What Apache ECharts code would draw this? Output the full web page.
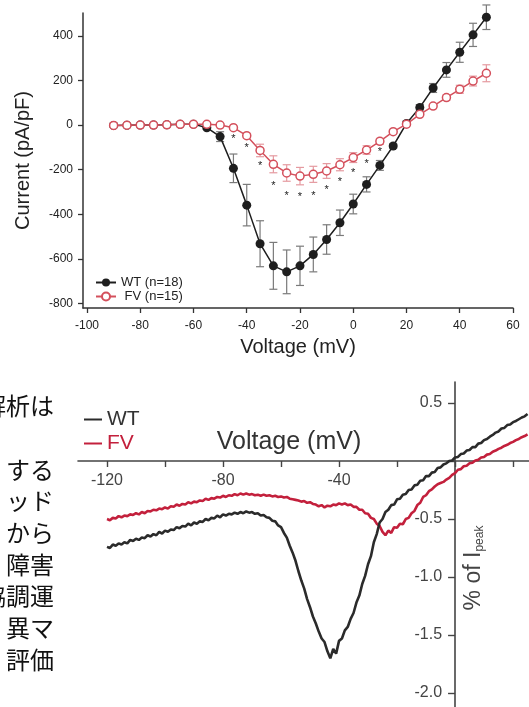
<!DOCTYPE html>
<html>
<head>
<meta charset="utf-8">
<script src="https://cdn.jsdelivr.net/npm/echarts@6/dist/echarts.min.js"></script>
<style>
  html, body { margin: 0; padding: 0; background: #fff; }
  #chart { width: 529px; height: 707px; }
</style>
</head>
<body>
<div id="chart"></div>
<script>
// ---------- Top chart: I-V relationship ----------
const ivVoltages = [-90,-85,-80,-75,-70,-65,-60,-55,-50,-45,-40,-35,-30,-25,-20,-15,-10,-5,0,5,10,15,20,25,30,35,40,45,50];
const wtMean = [-2,-1,0,0,1,3,4,-12,-52,-194,-359,-532,-631,-658,-631,-580,-513,-438,-354,-266,-181,-94,7,79,166,247,326,404,483];
const wtErr  = [0,0,0,0,0,0,0,6,22,64,93,103,105,98,88,78,66,57,44,34,22,10,6,12,20,33,45,52,55];
const fvMean = [-2,-1,0,0,1,3,3,3,0,-12,-48,-114,-176,-215,-229,-221,-206,-178,-146,-112,-73,-30,4,48,85,123,160,197,232];
const fvErr  = [0,0,0,0,0,0,0,0,3,5,10,28,38,37,39,36,33,27,22,19,13,7,4,5,8,12,18,22,38];
const starVoltages = [-45,-40,-35,-30,-25,-20,-15,-10,-5,0,5,10];
const starLevels   = [-49,-90,-172,-259,-303,-311,-303,-277,-242,-202,-161,-108];
const ivXTicks = [-100,-80,-60,-40,-20,0,20,40,60];
const ivYTicks = [-800,-600,-400,-200,0,200,400];
const wtName = 'WT (n=18)';
const fvName = ' FV (n=15)';

// ---------- Bottom chart: ramp current traces ----------
const traceStart = -120; // mV, 1 mV per sample
const wtTrace = [
-0.74,-0.75,-0.72,-0.73,-0.71,-0.72,-0.70,-0.71,-0.68,-0.69,
-0.67,-0.68,-0.66,-0.665,-0.64,-0.65,-0.63,-0.64,-0.61,-0.625,
-0.60,-0.61,-0.59,-0.595,-0.57,-0.58,-0.56,-0.565,-0.54,-0.555,
-0.53,-0.54,-0.52,-0.525,-0.50,-0.51,-0.49,-0.495,-0.47,-0.485,
-0.46,-0.47,-0.455,-0.46,-0.445,-0.455,-0.44,-0.45,-0.435,-0.445,
-0.44,-0.455,-0.45,-0.47,-0.465,-0.485,-0.49,-0.515,-0.52,-0.555,
-0.57,-0.62,-0.66,-0.73,-0.79,-0.86,-0.95,-1.03,-1.10,-1.19,
-1.26,-1.34,-1.40,-1.47,-1.53,-1.56,-1.64,-1.70,-1.62,-1.66,
-1.55,-1.53,-1.46,-1.43,-1.36,-1.31,-1.22,-1.16,-1.06,-0.99,
-0.89,-0.82,-0.70,-0.63,-0.53,-0.50,-0.44,-0.42,-0.38,-0.375,
-0.33,-0.325,-0.29,-0.285,-0.25,-0.245,-0.21,-0.205,-0.17,-0.165,
-0.13,-0.13,-0.10,-0.095,-0.06,-0.055,-0.03,-0.02,0.0,0.005,
0.03,0.035,0.06,0.065,0.09,0.095,0.12,0.12,0.15,0.155,
0.18,0.19,0.21,0.225,0.245,0.255,0.28,0.285,0.31,0.315,
0.335,0.345,0.36,0.375,0.385,0.405
];
const fvTrace = [
-0.50,-0.51,-0.49,-0.495,-0.475,-0.485,-0.47,-0.475,-0.46,-0.465,
-0.45,-0.46,-0.44,-0.45,-0.43,-0.435,-0.42,-0.425,-0.41,-0.415,
-0.40,-0.41,-0.39,-0.395,-0.375,-0.385,-0.37,-0.375,-0.355,-0.365,
-0.35,-0.355,-0.34,-0.345,-0.325,-0.335,-0.32,-0.325,-0.31,-0.315,
-0.30,-0.31,-0.295,-0.30,-0.285,-0.295,-0.28,-0.29,-0.28,-0.29,
-0.285,-0.295,-0.29,-0.30,-0.29,-0.30,-0.295,-0.305,-0.30,-0.31,
-0.305,-0.315,-0.31,-0.325,-0.33,-0.335,-0.34,-0.35,-0.345,-0.36,
-0.355,-0.37,-0.375,-0.39,-0.38,-0.40,-0.385,-0.39,-0.375,-0.38,
-0.365,-0.375,-0.365,-0.38,-0.375,-0.395,-0.395,-0.42,-0.42,-0.45,
-0.455,-0.49,-0.50,-0.54,-0.56,-0.61,-0.64,-0.60,-0.62,-0.57,
-0.575,-0.54,-0.545,-0.50,-0.49,-0.45,-0.43,-0.38,-0.36,-0.31,
-0.295,-0.26,-0.245,-0.22,-0.20,-0.19,-0.18,-0.16,-0.145,-0.12,
-0.105,-0.075,-0.07,-0.045,-0.04,-0.02,-0.015,0.005,0.01,0.03,
0.035,0.055,0.06,0.08,0.09,0.105,0.115,0.13,0.14,0.155,
0.165,0.18,0.19,0.205,0.215,0.23
];
const rampXTicks = [-120,-100,-80,-60,-40,-20,0,20];
const rampXLabels = [-120,-80,-40];
const rampYTicks = [0.5,0,-0.5,-1.0,-1.5,-2.0];
const rampYLabels = [0.5,-0.5,-1.0,-1.5,-2.0];

// Side text fragments (Japanese body text cut by the crop)
const sideText = ['解析は','','する','ッド','から','障害','協調運','異マ','評価'];

// ---------- colours ----------
const cWT = '#1e1e1e', cWTerr = '#7a7a7a';
const cFV = '#d4505c', cFVerr = '#e59aa0';
const cWT2 = '#2b2b2b', cFV2 = '#c3203c';
const FONT = '"Liberation Sans", Arial, Helvetica, sans-serif';

// bottom grid geometry (axes cross at 0,0)
const g2 = { left: 78, right: 0, top: 382, bottom: 0, xMin: -130, xMax: 25.5, yMin: -2.12, yMax: 0.681 };
const g2W = 529 - g2.left - g2.right, g2H = 707 - g2.top - g2.bottom;
const xZeroOffset = -(g2W * (0 - g2.xMin) / (g2.xMax - g2.xMin));   // move y axis right to x=0
const yZeroOffset = -(g2H * (0 - g2.yMin) / (g2.yMax - g2.yMin));   // move x axis up to y=0

function pairs(xs, ys) { return xs.map((x, i) => [x, ys[i]]); }
function errRows(xs, m, e) {
  const rows = [];
  xs.forEach((x, i) => { if (e[i] > 0) rows.push([x, m[i] - e[i], m[i] + e[i]]); });
  return rows;
}
function errRender(color) {
  return function (params, api) {
    const x = api.value(0);
    const pLo = api.coord([x, api.value(1)]);
    const pHi = api.coord([x, api.value(2)]);
    const w = 4;
    const st = { stroke: color, lineWidth: 1.2 };
    return { type: 'group', children: [
      { type: 'line', shape: { x1: pHi[0], y1: pHi[1], x2: pLo[0], y2: pLo[1] }, style: st },
      { type: 'line', shape: { x1: pHi[0] - w, y1: pHi[1], x2: pHi[0] + w, y2: pHi[1] }, style: st },
      { type: 'line', shape: { x1: pLo[0] - w, y1: pLo[1], x2: pLo[0] + w, y2: pLo[1] }, style: st }
    ]};
  };
}
const traceV = wtTrace.map((_, i) => traceStart + i);

const chart = echarts.init(document.getElementById('chart'), null, { renderer: 'canvas' });

const sideGraphics = sideText.map((t, i) => ({
  type: 'text', x: 54, y: 406 + i * 31.7,
  style: { text: t, align: 'right', verticalAlign: 'middle', fill: '#111',
           font: '24px "Noto Sans CJK JP", sans-serif' }
}));

chart.setOption({
  animation: false,
  backgroundColor: '#fff',
  textStyle: { fontFamily: FONT },
  grid: [
    { left: 83, right: 16, top: 13, bottom: 399 },
    { left: g2.left, right: g2.right, top: g2.top, bottom: g2.bottom }
  ],
  xAxis: [
    {
      gridIndex: 0, type: 'value', min: -101.5, max: 60,
      name: 'Voltage (mV)', nameLocation: 'middle', nameGap: 29,
      nameTextStyle: { fontSize: 20, color: '#222', fontFamily: FONT },
      axisLine: { onZero: false, lineStyle: { color: '#333', width: 1.5 } },
      axisTick: { customValues: ivXTicks, length: 5, lineStyle: { color: '#333', width: 1.3 } },
      axisLabel: { customValues: ivXTicks, fontSize: 12, color: '#222', margin: 12, fontFamily: FONT },
      splitLine: { show: false }
    },
    {
      gridIndex: 1, type: 'value', min: g2.xMin, max: g2.xMax,
      position: 'bottom', offset: yZeroOffset,
      axisLine: { onZero: false, lineStyle: { color: '#444', width: 1.6 } },
      axisTick: { customValues: rampXTicks, length: 6, lineStyle: { color: '#444', width: 1.4 } },
      axisLabel: { customValues: rampXLabels, fontSize: 16, color: '#444', margin: 12, fontFamily: FONT },
      splitLine: { show: false }
    }
  ],
  yAxis: [
    {
      gridIndex: 0, type: 'value', min: -820, max: 502,
      name: 'Current (pA/pF)', nameLocation: 'middle', nameGap: 50, nameRotate: 90,
      nameTextStyle: { fontSize: 20, color: '#222', fontFamily: FONT },
      axisLine: { onZero: false, lineStyle: { color: '#333', width: 1.5 } },
      axisTick: { customValues: ivYTicks, length: 5, lineStyle: { color: '#333', width: 1.3 } },
      axisLabel: { customValues: ivYTicks, fontSize: 12, color: '#222', margin: 10, fontFamily: FONT },
      splitLine: { show: false }
    },
    {
      gridIndex: 1, type: 'value', min: g2.yMin, max: g2.yMax,
      position: 'left', offset: xZeroOffset,
      axisLine: { onZero: false, lineStyle: { color: '#444', width: 1.6 } },
      axisTick: { customValues: rampYTicks, length: 7, lineStyle: { color: '#444', width: 1.4 } },
      axisLabel: { customValues: rampYLabels, fontSize: 16, color: '#444', margin: 13, fontFamily: FONT,
                   formatter: v => Number(v).toFixed(1) },
      splitLine: { show: false }
    }
  ],
  legend: [
    {
      orient: 'vertical', left: 90, top: 271, itemGap: 1,
      itemWidth: 20, itemHeight: 10,
      textStyle: { fontSize: 13, color: '#222', fontFamily: FONT },
      data: [wtName, fvName]
    },
    {
      orient: 'vertical', left: 79, top: 404, itemGap: 3,
      itemWidth: 18, itemHeight: 2, icon: 'rect',
      textStyle: { fontSize: 21, fontFamily: FONT },
      data: [
        { name: 'WT', textStyle: { color: '#333' } },
        { name: 'FV', textStyle: { color: cFV2 } }
      ]
    }
  ],
  graphic: [
    ...sideGraphics,
    { type: 'text', x: 289, y: 442,
      style: { text: 'Voltage (mV)', align: 'center', verticalAlign: 'middle', fill: '#333',
               font: '25px "Liberation Sans", Arial, sans-serif' } },
    { type: 'text', x: 474, y: 568, rotation: Math.PI / 2,
      style: { text: '% of I{s|peak}', align: 'center', verticalAlign: 'middle', fill: '#444',
               font: '23px "Liberation Sans", Arial, sans-serif',
               rich: { s: { fontSize: 12, fill: '#444', padding: [12, 0, 0, 0], fontFamily: FONT } } } }
  ],
  series: [
    { type: 'custom', xAxisIndex: 0, yAxisIndex: 0, z: 2, silent: true,
      renderItem: errRender(cWTerr), encode: { x: 0, y: [1, 2] },
      data: errRows(ivVoltages, wtMean, wtErr) },
    { name: wtName, type: 'line', xAxisIndex: 0, yAxisIndex: 0, z: 3,
      data: pairs(ivVoltages, wtMean), symbol: 'circle', symbolSize: 9,
      lineStyle: { color: cWT, width: 1.5 }, itemStyle: { color: cWT } },
    { type: 'custom', xAxisIndex: 0, yAxisIndex: 0, z: 4, silent: true,
      renderItem: errRender(cFVerr), encode: { x: 0, y: [1, 2] },
      data: errRows(ivVoltages, fvMean, fvErr) },
    { name: fvName, type: 'line', xAxisIndex: 0, yAxisIndex: 0, z: 5,
      data: pairs(ivVoltages, fvMean), symbol: 'circle', symbolSize: 8,
      lineStyle: { color: cFV, width: 1.5 },
      itemStyle: { color: '#fff', borderColor: cFV, borderWidth: 1.5 } },
    { type: 'custom', xAxisIndex: 0, yAxisIndex: 0, z: 6, silent: true,
      encode: { x: 0, y: 1 },
      data: pairs(starVoltages, starLevels),
      renderItem: function (params, api) {
        const p = api.coord([api.value(0), api.value(1)]);
        return { type: 'text', x: p[0], y: p[1] + 3,
                 style: { text: '*', align: 'center', verticalAlign: 'middle', fill: '#222',
                          font: '11px "Liberation Sans", Arial, sans-serif' } };
      } },
    { name: 'FV', type: 'line', xAxisIndex: 1, yAxisIndex: 1, z: 3,
      data: pairs(traceV, fvTrace), showSymbol: false, symbol: 'none',
      lineStyle: { color: cFV2, width: 2.6 }, itemStyle: { color: cFV2 } },
    { name: 'WT', type: 'line', xAxisIndex: 1, yAxisIndex: 1, z: 4,
      data: pairs(traceV, wtTrace), showSymbol: false, symbol: 'none',
      lineStyle: { color: cWT2, width: 2.6 }, itemStyle: { color: cWT2 } }
  ]
});
</script>
</body>
</html>
